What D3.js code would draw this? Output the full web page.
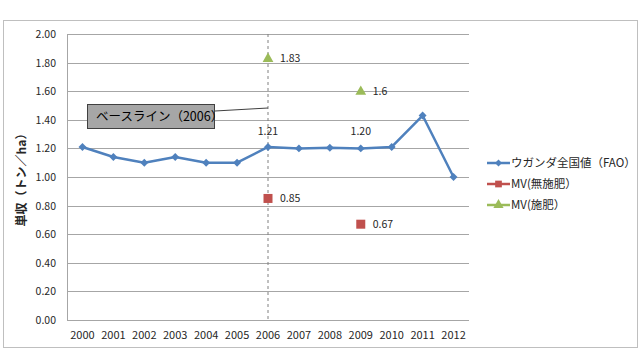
<!DOCTYPE html>
<html lang="ja">
<head>
<meta charset="utf-8">
<script src="https://d3js.org/d3.v7.min.js"></script>
<style>
  body { margin: 0; background: #fff; }
  svg { display: block; font-family: "Noto Sans CJK JP", "Noto Sans", sans-serif; }
</style>
</head>
<body>
<svg id="chart" width="639" height="356"></svg>
<script>
    // data
    const years = ["2000", "2001", "2002", "2003", "2004", "2005", "2006", "2007", "2008", "2009", "2010", "2011", "2012"];
    const uganda = [1.21, 1.14, 1.10, 1.14, 1.10, 1.10, 1.21, 1.20, 1.205, 1.20, 1.21, 1.43, 1.00];
    const mvNoFert = [{ year: "2006", v: 0.85, label: "0.85" }, { year: "2009", v: 0.67, label: "0.67" }];
    const mvFert = [{ year: "2006", v: 1.83, label: "1.83" }, { year: "2009", v: 1.60, label: "1.6" }];
    const shownLabels = [{ year: "2006", label: "1.21" }, { year: "2009", label: "1.20" }];
    const yTicks = [0, 0.2, 0.4, 0.6, 0.8, 1.0, 1.2, 1.4, 1.6, 1.8, 2.0];
    const seriesNames = ["ウガンダ全国値（FAO）", "MV(無施肥）", "MV(施肥）"];

    const blue = "#4f81bd", red = "#c0504d", green = "#9bbb59";
    const svg = d3.select("#chart");

    // outer frame
    svg.append("rect")
        .attr("x", 3.5).attr("y", 20.5)
        .attr("width", 634).attr("height", 327)
        .attr("fill", "#fff")
        .attr("stroke", "#bfbfbf")
        .attr("stroke-width", 1);

    const pLeft = 67, pRight = 469, pTop = 34, pBottom = 320;

    let x = d3.scaleBand().domain(years).range([pLeft, pRight]);
    let xc = (d) => x(d) + x.bandwidth() / 2;
    let y = d3.scaleLinear().domain([0, 2]).range([pBottom, pTop]);

    // gridlines
    svg.append("g")
        .selectAll("line")
        .data(yTicks)
        .enter()
        .append("line")
        .attr("x1", pLeft).attr("x2", pRight)
        .attr("y1", (d) => Math.round(y(d)) + 0.5)
        .attr("y2", (d) => Math.round(y(d)) + 0.5)
        .attr("stroke", "#a6a6a6")
        .attr("stroke-width", 1);

    // y axis line
    svg.append("line")
        .attr("x1", pLeft + 0.5).attr("x2", pLeft + 0.5)
        .attr("y1", pTop).attr("y2", pBottom)
        .attr("stroke", "#a6a6a6");

    // y tick labels
    svg.append("g")
        .selectAll("text")
        .data(yTicks)
        .enter()
        .append("text")
        .attr("x", 56)
        .attr("y", (d) => y(d) + 4)
        .attr("text-anchor", "end")
        .attr("font-size", 10.5)
        .attr("fill", "#262626")
        .text((d) => d.toFixed(2));

    // x labels
    svg.append("g")
        .selectAll("text")
        .data(years)
        .enter()
        .append("text")
        .attr("x", (d) => xc(d))
        .attr("y", 339)
        .attr("text-anchor", "middle")
        .attr("font-size", 11)
        .attr("fill", "#262626")
        .text((d) => d);

    // y axis title
    svg.append("text")
        .attr("transform", "translate(26," + (pTop + pBottom) / 2 + ") rotate(-90)")
        .attr("text-anchor", "middle")
        .attr("font-size", 12)
        .attr("font-weight", "bold")
        .attr("fill", "#262626")
        .text("単収（トン／ha）");

    // dashed baseline marker
    svg.append("line")
        .attr("x1", xc("2006")).attr("x2", xc("2006"))
        .attr("y1", pTop).attr("y2", pBottom)
        .attr("stroke", "#808080")
        .attr("stroke-dasharray", "3,3");

    // callout box
    svg.append("line")
        .attr("x1", 215).attr("y1", 111)
        .attr("x2", xc("2006")).attr("y2", 108)
        .attr("stroke", "#404040");
    svg.append("rect")
        .attr("x", 87.5).attr("y", 104.5)
        .attr("width", 127).attr("height", 24)
        .attr("fill", "#a6a6a6")
        .attr("stroke", "#404040");
    svg.append("text")
        .attr("x", 96).attr("y", 121)
        .attr("font-size", 12.5)
        .attr("fill", "#000")
        .text("ベースライン（2006）");

    // FAO line
    let line = d3.line().x((d, i) => xc(years[i])).y((d) => y(d));
    svg.append("path")
        .datum(uganda)
        .attr("d", line)
        .attr("fill", "none")
        .attr("stroke", blue)
        .attr("stroke-width", 2.5)
        .attr("stroke-linejoin", "round");

    svg.append("g")
        .selectAll("path")
        .data(uganda)
        .enter()
        .append("path")
        .attr("d", d3.symbol().type(d3.symbolDiamond2).size(40))
        .attr("transform", (d, i) => "translate(" + xc(years[i]) + "," + y(d) + ")")
        .attr("fill", blue);

    // labels on line
    svg.append("g")
        .selectAll("text")
        .data(shownLabels)
        .enter()
        .append("text")
        .attr("x", (d) => xc(d.year))
        .attr("y", 135)
        .attr("text-anchor", "middle")
        .attr("font-size", 10.5)
        .attr("fill", "#262626")
        .text((d) => d.label);

    // MV no fertiliser
    svg.append("g")
        .selectAll("rect")
        .data(mvNoFert)
        .enter()
        .append("rect")
        .attr("x", (d) => xc(d.year) - 4.5)
        .attr("y", (d) => y(d.v) - 4.5)
        .attr("width", 9).attr("height", 9)
        .attr("fill", red);
    svg.append("g")
        .selectAll("text")
        .data(mvNoFert)
        .enter()
        .append("text")
        .attr("x", (d) => xc(d.year) + 12)
        .attr("y", (d) => y(d.v) + 4)
        .attr("font-size", 10.5)
        .attr("fill", "#262626")
        .text((d) => d.label);

    // MV fertilised
    svg.append("g")
        .selectAll("path")
        .data(mvFert)
        .enter()
        .append("path")
        .attr("d", d3.symbol().type(d3.symbolTriangle).size(50))
        .attr("transform", (d) => "translate(" + xc(d.year) + "," + (y(d.v) + 0.5) + ")")
        .attr("fill", green);
    svg.append("g")
        .selectAll("text")
        .data(mvFert)
        .enter()
        .append("text")
        .attr("x", (d) => xc(d.year) + 12)
        .attr("y", (d) => y(d.v) + 4)
        .attr("font-size", 10.5)
        .attr("fill", "#262626")
        .text((d) => d.label);

    // legend
    const colors = [blue, red, green];
    const symbols = [d3.symbolDiamond2, d3.symbolSquare, d3.symbolTriangle];
    let legend = svg.append("g")
        .selectAll("g")
        .data(seriesNames)
        .enter()
        .append("g")
        .attr("transform", (d, i) => "translate(487," + (163 + i * 21) + ")");
    legend.append("line")
        .attr("x1", 0).attr("x2", 23)
        .attr("stroke", (d, i) => colors[i])
        .attr("stroke-width", 2.5);
    legend.append("path")
        .attr("d", (d, i) => d3.symbol().type(symbols[i]).size(i == 0 ? 32 : 45)())
        .attr("transform", "translate(11.5,0)")
        .attr("fill", (d, i) => colors[i]);
    legend.append("text")
        .attr("x", 24)
        .attr("y", 4)
        .attr("font-size", 11.5)
        .attr("fill", "#262626")
        .text((d) => d);
</script>
</body>
</html>
